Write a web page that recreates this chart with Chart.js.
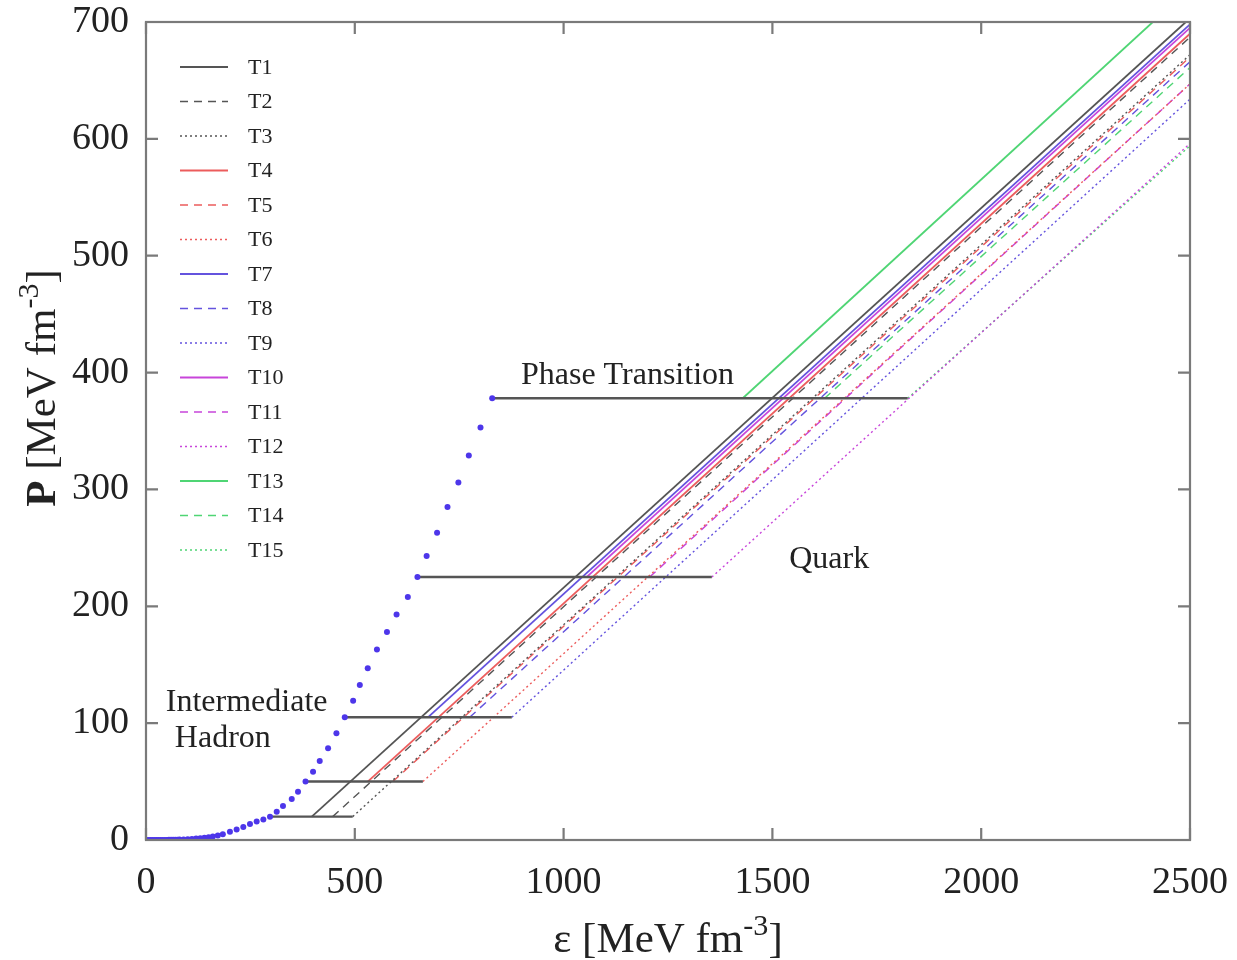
<!DOCTYPE html>
<html>
<head>
<meta charset="utf-8">
<script src="https://cdn.jsdelivr.net/npm/chart.js@4"></script>
<style>
  body { margin: 0; background: #fff; }
  canvas { display: block; }
</style>
</head>
<body>
<canvas id="eosChart" width="1237" height="960"></canvas>
<script>
// Hadron EOS points (epsilon, P)
const hadronEps = [0, 5, 10, 15, 20, 25, 30, 35, 40, 45, 50, 55, 60, 65, 70, 75, 80, 90, 100, 110, 120, 130, 140, 150, 160, 172,
    184, 201, 217, 233, 249, 265, 281, 297, 313, 328, 349, 364, 382, 400, 416, 436, 456, 476, 496, 512, 531, 553, 577, 600,
    627, 650, 672, 697, 722, 748, 773, 801, 829];
const hadronP = [0, 0, 0, 0, 0, 0, 0.05, 0.05, 0.1, 0.1, 0.1, 0.15, 0.2, 0.2, 0.25, 0.3, 0.35, 0.5, 0.7, 0.9, 1.2, 1.5, 1.9, 2.4, 3.0, 3.9,
    5.0, 7.0, 9.0, 11.2, 13.6, 15.8, 17.6, 20, 24.2, 29.1, 35.1, 41.3, 50, 58.5, 67.6, 78.5, 91.3, 105, 119.2, 132.6, 147, 163, 178, 193,
    208, 225, 243, 263, 285, 306, 329, 353, 378];

// transition pressures and hadron energy density at each transition
const transP = [20, 50, 105, 225, 378];
const transEps = [297, 382, 476, 650, 829];

// quark branches T1..T15
const labels = ['T1', 'T2', 'T3', 'T4', 'T5', 'T6', 'T7', 'T8', 'T9', 'T10', 'T11', 'T12', 'T13', 'T14', 'T15'];
const quarkStartEps = [397, 447, 495, 531, 591, 663, 675, 775, 876, 1055, 1206, 1355, 1429, 1625, 1824];
const quarkEndEps = [2490, 2500, 2500, 2500, 2500, 2500, 2500, 2500, 2500, 2500, 2500, 2500, 2411, 2500, 2500];
const quarkEndP = [700, 687, 672, 690, 670, 647, 698, 666, 634, 695, 647, 596, 700, 661, 594];

const groupColors = ['#555555', '#ec5c5c', '#6453de', '#c845da', '#4fd574'];
const dashes = [[], [8, 6], [2, 3]];

// annotation text, placed in data coordinates
const notes = [
    { text: 'Phase Transition', x: 1153, y: 397 },
    { text: 'Quark', x: 1636, y: 240 },
    { text: 'Intermediate', x: 241, y: 118 },
    { text: 'Hadron', x: 184, y: 87 }
];

const SERIF = '"Liberation Serif", "DejaVu Serif", serif';

const datasets = [];

labels.forEach((lab, i) => {
    const g = Math.floor(i / 3);
    datasets.push({
        label: lab,
        data: [{ x: quarkStartEps[i], y: transP[g] }, { x: quarkEndEps[i], y: quarkEndP[i] }],
        showLine: true,
        borderColor: groupColors[g],
        backgroundColor: groupColors[g],
        borderWidth: (i % 3 === 0) ? 1.8 : 1.4,
        borderDash: dashes[i % 3],
        pointRadius: 0,
        inLegend: true,
        order: 2
    });
});

// horizontal phase-transition segments
transP.forEach((p, g) => {
    datasets.push({
        label: 'trans' + g,
        data: [{ x: transEps[g], y: p }, { x: quarkStartEps[g * 3 + 2], y: p }],
        showLine: true,
        borderColor: '#555555',
        borderWidth: 2.4,
        pointRadius: 0,
        order: 1
    });
});

datasets.push({
    label: 'hadron',
    data: hadronEps.map((e, i) => ({ x: e, y: hadronP[i] })),
    showLine: false,
    pointRadius: 3,
    pointBorderWidth: 0,
    pointBackgroundColor: '#4d36ea',
    order: 0
});

function drawRich(ctx, parts, x, y, size) {
    // measure, then draw centred at x
    let total = 0;
    parts.forEach(p => {
        ctx.font = (p.bold ? 'bold ' : '') + (p.sup ? size * 0.7 : size) + 'px ' + SERIF;
        p.w = ctx.measureText(p.t).width;
        total += p.w;
    });
    let cx = x - total / 2;
    parts.forEach(p => {
        ctx.font = (p.bold ? 'bold ' : '') + (p.sup ? size * 0.7 : size) + 'px ' + SERIF;
        ctx.fillText(p.t, cx, p.sup ? y - size * 0.4 : y);
        cx += p.w;
    });
}

const framePlugin = {
    id: 'frame',
    afterDraw(chart) {
        const { ctx, chartArea: a, scales } = chart;
        ctx.save();
        ctx.strokeStyle = '#7a7a7a';
        ctx.lineWidth = 2.2;
        ctx.strokeRect(a.left, a.top, a.right - a.left, a.bottom - a.top);
        const tl = 12;
        ctx.beginPath();
        scales.x.ticks.forEach(t => {
            const px = scales.x.getPixelForValue(t.value);
            ctx.moveTo(px, a.bottom); ctx.lineTo(px, a.bottom - tl);
            ctx.moveTo(px, a.top); ctx.lineTo(px, a.top + tl);
        });
        scales.y.ticks.forEach(t => {
            const py = scales.y.getPixelForValue(t.value);
            ctx.moveTo(a.left, py); ctx.lineTo(a.left + tl, py);
            ctx.moveTo(a.right, py); ctx.lineTo(a.right - tl, py);
        });
        ctx.stroke();

        // legend inside plot
        let ly = 67;
        chart.data.datasets.forEach(ds => {
            if (!ds.inLegend) return;
            ctx.strokeStyle = ds.borderColor;
            ctx.lineWidth = ds.borderWidth;
            ctx.setLineDash(ds.borderDash);
            ctx.beginPath();
            ctx.moveTo(180, ly); ctx.lineTo(228, ly);
            ctx.stroke();
            ctx.setLineDash([]);
            ctx.fillStyle = '#222';
            ctx.font = '22px ' + SERIF;
            ctx.textAlign = 'left';
            ctx.textBaseline = 'middle';
            ctx.fillText(ds.label, 248, ly + 1);
            ly += 34.5;
        });

        // annotations
        ctx.fillStyle = '#222';
        ctx.textAlign = 'center';
        ctx.textBaseline = 'middle';
        ctx.font = '32px ' + SERIF;
        notes.forEach(n => {
            ctx.fillText(n.text, scales.x.getPixelForValue(n.x), scales.y.getPixelForValue(n.y));
        });

        // axis titles
        ctx.textAlign = 'left';
        ctx.textBaseline = 'alphabetic';
        drawRich(ctx, [{ t: 'ε [MeV fm' }, { t: '-3', sup: true }, { t: ']' }], 668, 952, 43);
        ctx.save();
        ctx.translate(55, 388);
        ctx.rotate(-Math.PI / 2);
        drawRich(ctx, [{ t: 'P', bold: true }, { t: ' [MeV fm' }, { t: '-3', sup: true }, { t: ']' }], 0, 0, 43);
        ctx.restore();
        ctx.restore();
    }
};

new Chart(document.getElementById('eosChart'), {
    type: 'scatter',
    data: { datasets: datasets },
    options: {
        responsive: false,
        animation: false,
        layout: { padding: { top: 22, right: 47, left: 0, bottom: 0 } },
        plugins: {
            legend: { display: false },
            tooltip: { enabled: false }
        },
        scales: {
            x: {
                type: 'linear',
                min: 0,
                max: 2500,
                grid: { display: false, drawTicks: true, tickLength: 22 },
                border: { display: false },
                ticks: {
                    stepSize: 500,
                    padding: 0,
                    color: '#222',
                    font: { family: SERIF, size: 38, lineHeight: 1.1 },
                    callback: v => String(v)
                },
                afterFit: s => { s.height = 120; }
            },
            y: {
                min: 0,
                max: 700,
                grid: { display: false, drawTicks: true, tickLength: 17 },
                border: { display: false },
                ticks: {
                    stepSize: 100,
                    padding: 0,
                    color: '#222',
                    font: { family: SERIF, size: 38, lineHeight: 1.1 },
                    callback: v => String(v)
                },
                afterFit: s => { s.width = 146; }
            }
        }
    },
    plugins: [framePlugin]
});
</script>
</body>
</html>
